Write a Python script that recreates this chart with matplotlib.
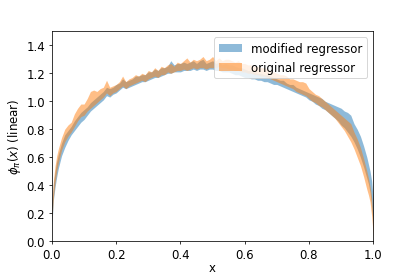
import matplotlib
matplotlib.use("Agg")
import matplotlib.pyplot as plt

plt.rcParams["font.size"] = 12.2

# sample positions
x = [0.0, 0.005, 0.01, 0.015, 0.02, 0.03, 0.04, 0.05, 0.06, 0.07, 0.08, 0.09,
     0.10, 0.11, 0.12, 0.13, 0.14, 0.15, 0.16, 0.17, 0.18, 0.19,
     0.20, 0.21, 0.22, 0.23, 0.24, 0.25, 0.26, 0.27, 0.28, 0.29,
     0.30, 0.31, 0.32, 0.33, 0.34, 0.35, 0.36, 0.37, 0.38, 0.39,
     0.40, 0.41, 0.42, 0.43, 0.44, 0.45, 0.46, 0.47, 0.48, 0.49,
     0.50, 0.51, 0.52, 0.53, 0.54, 0.55, 0.56, 0.57, 0.58, 0.59,
     0.60, 0.61, 0.62, 0.63, 0.64, 0.65, 0.66, 0.67, 0.68, 0.69,
     0.70, 0.71, 0.72, 0.73, 0.74, 0.75, 0.76, 0.77, 0.78, 0.79,
     0.80, 0.81, 0.82, 0.83, 0.84, 0.85, 0.86, 0.87, 0.88, 0.89,
     0.90, 0.91, 0.92, 0.93, 0.94, 0.95, 0.96, 0.97, 0.98, 0.985,
     0.99, 0.995, 1.0]

# modified regressor band (lower / upper)
mod_lo = [0.12, 0.30, 0.39, 0.46, 0.52, 0.61, 0.67, 0.72, 0.76, 0.79, 0.82, 0.85,
          0.87, 0.90, 0.93, 0.95, 0.97, 0.99, 1.01, 1.04, 1.03, 1.05,
          1.06, 1.08, 1.10, 1.09, 1.10, 1.11, 1.12, 1.13, 1.14, 1.14,
          1.15, 1.16, 1.17, 1.17, 1.18, 1.19, 1.20, 1.20, 1.21, 1.21,
          1.21, 1.22, 1.22, 1.22, 1.23, 1.22, 1.23, 1.23, 1.22, 1.23,
          1.23, 1.22, 1.22, 1.21, 1.21, 1.21, 1.20, 1.19, 1.19, 1.18,
          1.17, 1.17, 1.16, 1.16, 1.15, 1.15, 1.14, 1.14, 1.13, 1.12,
          1.12, 1.11, 1.10, 1.09, 1.08, 1.07, 1.06, 1.05, 1.04, 1.03,
          1.01, 1.00, 0.98, 0.97, 0.95, 0.94, 0.92, 0.90, 0.88, 0.86,
          0.83, 0.81, 0.78, 0.75, 0.71, 0.66, 0.60, 0.53, 0.45, 0.41,
          0.35, 0.24, 0.12]
mod_hi = [0.26, 0.42, 0.50, 0.57, 0.62, 0.70, 0.76, 0.79, 0.82, 0.86, 0.89, 0.92,
          0.94, 0.96, 0.99, 1.01, 1.03, 1.05, 1.07, 1.10, 1.09, 1.10,
          1.12, 1.13, 1.16, 1.14, 1.15, 1.16, 1.18, 1.18, 1.19, 1.19,
          1.21, 1.21, 1.23, 1.22, 1.24, 1.24, 1.25, 1.29, 1.26, 1.27,
          1.27, 1.28, 1.27, 1.28, 1.29, 1.27, 1.29, 1.30, 1.27, 1.28,
          1.29, 1.27, 1.28, 1.26, 1.27, 1.26, 1.26, 1.25, 1.24, 1.24,
          1.23, 1.22, 1.22, 1.21, 1.20, 1.20, 1.19, 1.19, 1.18, 1.17,
          1.16, 1.15, 1.15, 1.13, 1.12, 1.12, 1.10, 1.09, 1.08, 1.07,
          1.06, 1.05, 1.04, 1.03, 1.02, 1.00, 0.99, 0.98, 0.97, 0.96,
          0.95, 0.93, 0.92, 0.90, 0.84, 0.80, 0.75, 0.68, 0.60, 0.55,
          0.50, 0.43, 0.30]

# original regressor band (lower / upper)
orig_lo = [0.14, 0.32, 0.42, 0.50, 0.56, 0.65, 0.71, 0.75, 0.78, 0.82, 0.86, 0.89,
           0.90, 0.93, 0.95, 0.97, 0.99, 1.01, 1.03, 1.06, 1.04, 1.06,
           1.07, 1.09, 1.11, 1.09, 1.11, 1.12, 1.13, 1.14, 1.15, 1.14,
           1.16, 1.17, 1.18, 1.17, 1.19, 1.19, 1.21, 1.20, 1.21, 1.22,
           1.22, 1.23, 1.22, 1.23, 1.24, 1.23, 1.24, 1.24, 1.23, 1.24,
           1.24, 1.24, 1.25, 1.24, 1.24, 1.23, 1.23, 1.22, 1.22, 1.21,
           1.21, 1.20, 1.20, 1.19, 1.19, 1.18, 1.18, 1.17, 1.16, 1.15,
           1.14, 1.13, 1.12, 1.11, 1.10, 1.09, 1.07, 1.06, 1.05, 1.04,
           1.02, 1.00, 0.99, 0.97, 0.96, 0.94, 0.92, 0.90, 0.88, 0.85,
           0.82, 0.79, 0.75, 0.71, 0.66, 0.60, 0.54, 0.46, 0.37, 0.33,
           0.28, 0.18, 0.04]
orig_hi = [0.28, 0.44, 0.54, 0.61, 0.66, 0.74, 0.80, 0.83, 0.85, 0.91, 0.95, 0.98,
           0.98, 1.02, 1.07, 1.08, 1.07, 1.09, 1.10, 1.15, 1.10, 1.11,
           1.12, 1.14, 1.18, 1.14, 1.16, 1.17, 1.19, 1.18, 1.20, 1.19,
           1.22, 1.21, 1.24, 1.22, 1.25, 1.24, 1.26, 1.27, 1.25, 1.28,
           1.27, 1.29, 1.31, 1.28, 1.30, 1.29, 1.30, 1.32, 1.29, 1.30,
           1.32, 1.29, 1.31, 1.29, 1.30, 1.30, 1.29, 1.28, 1.29, 1.27,
           1.27, 1.26, 1.26, 1.25, 1.25, 1.24, 1.24, 1.23, 1.22, 1.21,
           1.20, 1.19, 1.19, 1.18, 1.16, 1.16, 1.15, 1.14, 1.14, 1.13,
           1.09, 1.07, 1.05, 1.04, 1.02, 1.00, 0.98, 0.96, 0.94, 0.92,
           0.90, 0.88, 0.86, 0.84, 0.78, 0.73, 0.67, 0.59, 0.50, 0.45,
           0.39, 0.31, 0.14]

fig = plt.figure(figsize=(6, 4), dpi=69.2)
ax = fig.add_subplot(111)
fig.subplots_adjust(left=0.125, right=0.899, top=0.884, bottom=0.126)

ax.fill_between(x, mod_lo, mod_hi, alpha=0.5, color="C0", linewidth=0, label="modified regressor")
ax.fill_between(x, orig_lo, orig_hi, alpha=0.5, color="C1", linewidth=0, label="original regressor")

ax.set_xlim(0, 1)
ax.set_ylim(0, 1.5)
ax.set_yticks([0.0, 0.2, 0.4, 0.6, 0.8, 1.0, 1.2, 1.4])
ax.set_xlabel("x", labelpad=0)
ax.set_ylabel(r"$\phi_\pi(x)$ (linear)")
ax.legend(loc="upper right")

fig.savefig("out.png", dpi=69.2)
